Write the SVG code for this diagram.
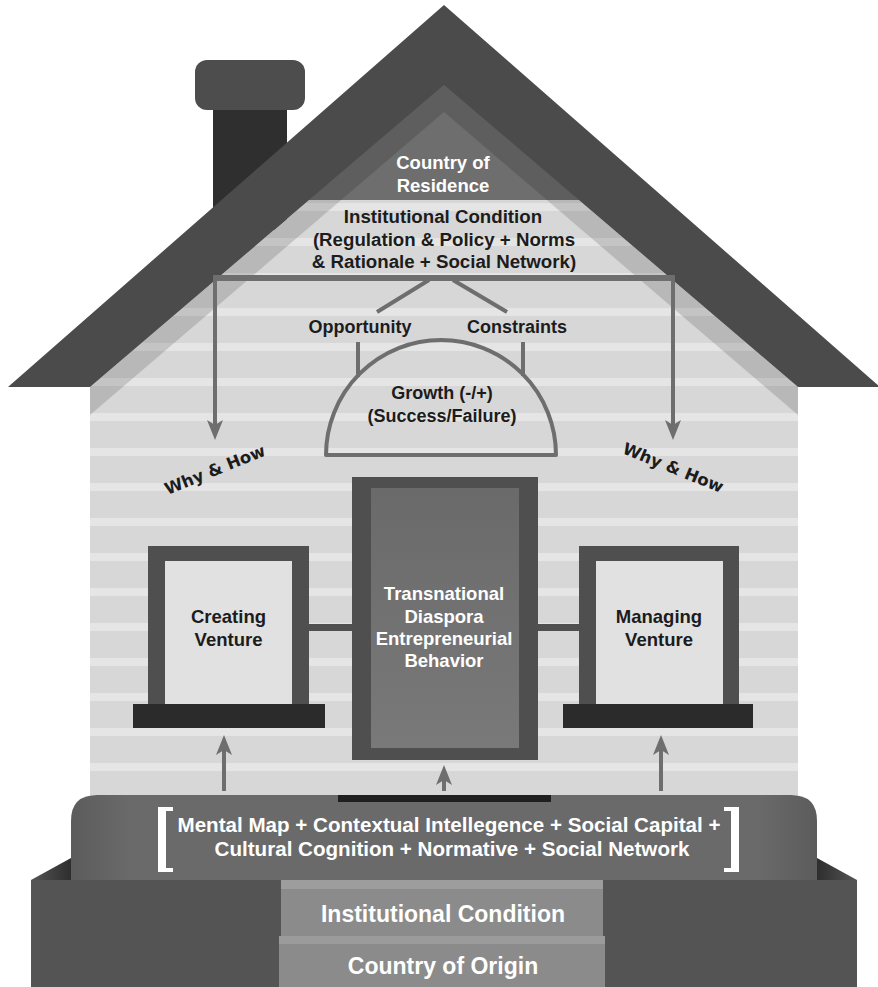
<svg xmlns="http://www.w3.org/2000/svg" width="878" height="987" viewBox="0 0 878 987">
  <defs>
    <style>
      .lbl { font-family: "Liberation Sans", Arial, Helvetica, sans-serif; font-weight: bold; text-anchor: middle; }
      .slant { font-family: "DejaVu Sans", Verdana, sans-serif; font-weight: bold; text-anchor: middle; }
      .dark { fill: #1c1c1c; }
      .light { fill: #ffffff; }
      .conn { stroke: #6e6e6e; stroke-width: 4; fill: none; }
      .frame { fill: #4f4f4f; }
      .pane { fill: #e1e1e1; }
      .sill { fill: #2b2b2b; }
    </style>
    <!-- horizontal siding boards on the wall -->
    <pattern id="siding" patternUnits="userSpaceOnUse" x="0" y="203" width="878" height="35">
      <rect width="878" height="35" fill="#d7d7d7"/>
      <rect width="878" height="8" fill="#e5e5e5"/>
    </pattern>
    <linearGradient id="doorPanel" x1="0" y1="0" x2="0" y2="1">
      <stop offset="0" stop-color="#6a6a6a"/>
      <stop offset="1" stop-color="#797979"/>
    </linearGradient>
    <linearGradient id="plinth" x1="0" y1="0" x2="1" y2="0">
      <stop offset="0" stop-color="#5c5c5c"/>
      <stop offset="0.08" stop-color="#6a6a6a"/>
      <stop offset="0.92" stop-color="#6a6a6a"/>
      <stop offset="1" stop-color="#5c5c5c"/>
    </linearGradient>
    <linearGradient id="ledgeL" x1="0" y1="0" x2="1" y2="0">
      <stop offset="0" stop-color="#555555"/>
      <stop offset="1" stop-color="#2e2e2e"/>
    </linearGradient>
    <linearGradient id="ledgeR" x1="1" y1="0" x2="0" y2="0">
      <stop offset="0" stop-color="#555555"/>
      <stop offset="1" stop-color="#2e2e2e"/>
    </linearGradient>
    <marker id="arrow" markerUnits="userSpaceOnUse" markerWidth="20" markerHeight="16" viewBox="0 0 20 16" refX="8" refY="8" orient="auto">
      <path d="M0,0 L20,8 L0,16 L5,8 Z" fill="#6e6e6e"/>
    </marker>
  </defs>

  <rect width="878" height="987" fill="#ffffff"/>

  <!-- chimney -->
  <g id="chimney">
    <rect x="213" y="100" width="74" height="130" fill="#2f2f2f"/>
    <rect x="195" y="60" width="110" height="50" rx="12" fill="#4d4d4d"/>
  </g>

  <!-- wall with siding -->
  <g id="wall">
    <path d="M90,795 L90,387 L444,85 L798,387 L798,795 Z" fill="url(#siding)"/>
  </g>

  <!-- gable: country of residence -->
  <g id="country-of-residence">
    <path d="M304,200 L444,80 L584,200 Z" fill="#6e6e6e"/>
    <text class="lbl light" x="443" y="169" font-size="18.5">Country of</text>
    <text class="lbl light" x="443" y="192" font-size="18.5">Residence</text>
  </g>

  <!-- shadow under the roof -->
  <path d="M90,387 L444,85 L798,387 L798,415 L444,112 L90,415 Z" fill="#000000" fill-opacity="0.14"/>

  <!-- roof -->
  <g id="roof">
    <path d="M444,5 L8,387 L90,387 L444,85 L798,387 L880,387 Z" fill="#4b4b4b"/>
  </g>

  <g id="institutional-condition-residence">
    <text class="lbl dark" x="443" y="223" font-size="18.7">Institutional Condition</text>
    <text class="lbl dark" x="444" y="246" font-size="18.7">(Regulation &amp; Policy + Norms</text>
    <text class="lbl dark" x="444" y="268" font-size="18.7">&amp; Rationale + Social Network)</text>
  </g>

  <!-- connectors -->
  <g id="connectors">
    <line x1="213" y1="278" x2="675" y2="278" stroke="#6e6e6e" stroke-width="6"/>
    <line class="conn" x1="215" y1="278" x2="215" y2="428" marker-end="url(#arrow)"/>
    <line class="conn" x1="673" y1="278" x2="673" y2="428" marker-end="url(#arrow)"/>
    <line class="conn" x1="429" y1="280" x2="377" y2="312"/>
    <line class="conn" x1="453" y1="280" x2="507" y2="312"/>
    <line class="conn" x1="358" y1="342" x2="358" y2="377"/>
    <line class="conn" x1="523" y1="342" x2="523" y2="376"/>
    <line x1="309" y1="627.5" x2="352" y2="627.5" stroke="#505050" stroke-width="7"/>
    <line x1="538" y1="627.5" x2="579" y2="627.5" stroke="#505050" stroke-width="7"/>
    <line class="conn" x1="224" y1="791" x2="224" y2="747" marker-end="url(#arrow)"/>
    <line class="conn" x1="444" y1="791" x2="444" y2="777" marker-end="url(#arrow)"/>
    <line class="conn" x1="661" y1="791" x2="661" y2="747" marker-end="url(#arrow)"/>
  </g>

  <g id="opportunity">
    <text class="lbl dark" x="360" y="333" font-size="18">Opportunity</text>
  </g>
  <g id="constraints">
    <text class="lbl dark" x="517" y="333" font-size="18">Constraints</text>
  </g>

  <g id="growth">
    <path d="M326,455 A115,115 0 0 1 556,455 Z" fill="none" stroke="#6e6e6e" stroke-width="4" stroke-linejoin="round"/>
    <text class="lbl dark" x="442" y="399" font-size="18">Growth (-/+)</text>
    <text class="lbl dark" x="442" y="422" font-size="18">(Success/Failure)</text>
  </g>

  <g id="why-how-left">
    <text class="slant dark" transform="translate(217,475) rotate(-22)" font-size="16.5">Why &amp; How</text>
  </g>
  <g id="why-how-right">
    <text class="slant dark" transform="translate(671,473) rotate(22)" font-size="16.5">Why &amp; How</text>
  </g>

  <!-- left window -->
  <g id="creating-venture">
    <rect class="frame" x="148" y="546" width="161" height="158"/>
    <rect class="pane" x="165" y="561" width="127" height="143"/>
    <rect class="sill" x="133" y="704" width="192" height="24"/>
    <text class="lbl dark" x="228.5" y="623" font-size="18.5">Creating</text>
    <text class="lbl dark" x="228.5" y="646" font-size="18.5">Venture</text>
  </g>

  <!-- right window -->
  <g id="managing-venture">
    <rect class="frame" x="579" y="546" width="160" height="158"/>
    <rect class="pane" x="596" y="561" width="127" height="143"/>
    <rect class="sill" x="563" y="704" width="190" height="24"/>
    <text class="lbl dark" x="659" y="623" font-size="18.5">Managing</text>
    <text class="lbl dark" x="659" y="646" font-size="18.5">Venture</text>
  </g>

  <!-- door -->
  <g id="transnational-behavior">
    <rect class="frame" x="352" y="477" width="186" height="283"/>
    <rect x="371" y="488" width="148" height="260" fill="url(#doorPanel)"/>
    <text class="lbl light" x="444" y="600" font-size="18.5">Transnational</text>
    <text class="lbl light" x="444" y="622.5" font-size="18.5">Diaspora</text>
    <text class="lbl light" x="444" y="645" font-size="18.5">Entrepreneurial</text>
    <text class="lbl light" x="444" y="667" font-size="18.5">Behavior</text>
  </g>

  <!-- foundation -->
  <g id="foundation">
    <path d="M71,880 L71,821 Q71,795 97,795 L791,795 Q817,795 817,821 L817,880 Z" fill="url(#plinth)"/>
    <rect x="338" y="795" width="213" height="7" fill="#1f1f1f"/>
    <path d="M173,807 L158,807 L158,872 L173,872 L173,868 L166,868 L166,811 L173,811 Z" fill="#ffffff"/>
    <path d="M724,807 L739,807 L739,872 L724,872 L724,868 L731,868 L731,811 L724,811 Z" fill="#ffffff"/>
    <text class="lbl light" x="449" y="832" font-size="20.6">Mental Map + Contextual Intellegence + Social Capital +</text>
    <text class="lbl light" x="452" y="856" font-size="20.6">Cultural Cognition + Normative + Social Network</text>
  </g>

  <!-- base -->
  <g id="base">
    <path d="M31,880 L71,858 L71,880 Z" fill="url(#ledgeL)"/>
    <path d="M857,880 L817,858 L817,880 Z" fill="url(#ledgeR)"/>
    <rect x="31" y="880" width="826" height="107" fill="#545454"/>
  </g>

  <!-- steps -->
  <g id="institutional-condition-origin">
    <rect x="281" y="880" width="322" height="56" fill="#8b8b8b"/>
    <rect x="281" y="880" width="322" height="9" fill="#9d9d9d"/>
    <text class="lbl light" x="443" y="922" font-size="23">Institutional Condition</text>
  </g>
  <g id="country-of-origin">
    <rect x="279" y="936" width="326" height="51" fill="#8b8b8b"/>
    <rect x="279" y="936" width="326" height="8" fill="#9b9b9b"/>
    <text class="lbl light" x="443" y="974" font-size="23">Country of Origin</text>
  </g>
</svg>
